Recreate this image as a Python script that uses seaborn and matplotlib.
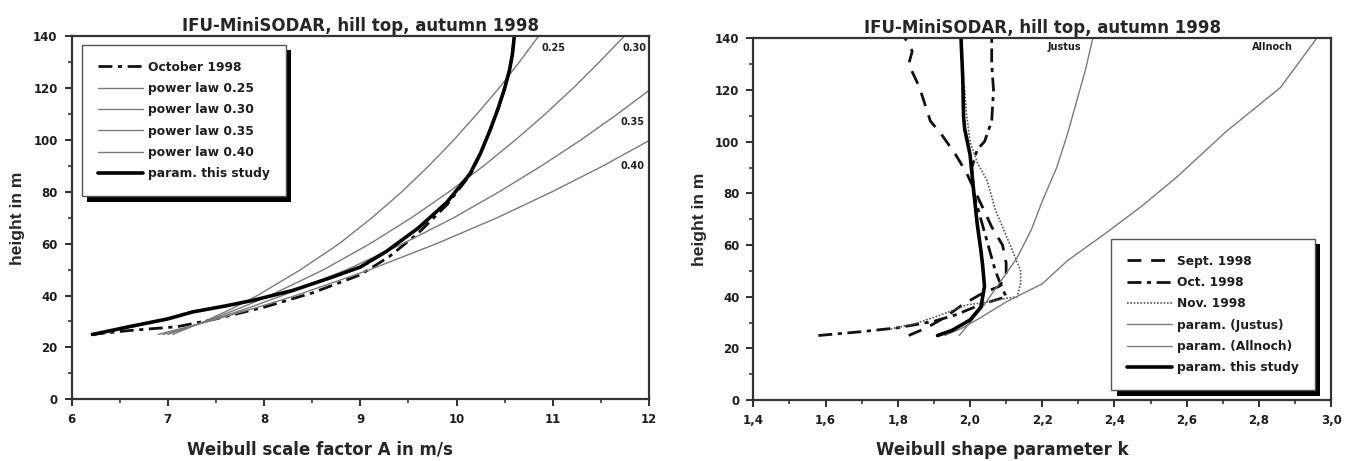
import matplotlib
matplotlib.use("Agg")
import matplotlib.pyplot as plt
import matplotlib.patheffects as pe
from matplotlib.ticker import MultipleLocator, FuncFormatter
import seaborn as sns

# --- left panel: Weibull scale factor A over height ---
pl_heights = [25, 30, 35, 40, 50, 60, 70, 80, 90, 100, 110, 120, 130, 140]
pl_025 = [7.05, 7.38, 7.67, 7.93, 8.38, 8.78, 9.12, 9.43, 9.71, 9.97, 10.21, 10.44, 10.65, 10.85]
pl_030 = [7.00, 7.39, 7.74, 8.06, 8.62, 9.10, 9.53, 9.92, 10.28, 10.61, 10.92, 11.21, 11.48, 11.74]
pl_035 = [6.95, 7.41, 7.82, 8.19, 8.86, 9.44, 9.97, 10.44, 10.88, 11.29, 11.67, 12.03, 12.38, 12.70]
pl_040 = [6.90, 7.42, 7.89, 8.33, 9.10, 9.79, 10.42, 10.99, 11.52, 12.01, 12.48, 12.92, 13.34, 13.74]

oct_A = [6.20, 6.60, 7.10, 7.50, 8.00, 8.50, 9.00, 9.30, 9.60, 9.90, 10.15, 10.25, 10.35, 10.43, 10.50, 10.55, 10.58, 10.60]
oct_A_h = [25, 26.5, 28, 31, 35.5, 41, 48, 55, 64, 75, 87, 95, 104, 112, 120, 127, 133, 140]

param_A = [6.22, 6.60, 7.00, 7.26, 7.60, 7.89, 8.30, 8.70, 9.00, 9.27, 9.60, 9.90, 10.14, 10.25, 10.35, 10.43, 10.50, 10.55, 10.58, 10.60]
param_A_h = [25, 28, 31, 33.7, 36, 38.2, 42, 47, 51, 57, 66, 76, 87, 95, 104, 112, 120, 127, 133, 140]

# --- right panel: Weibull shape parameter k over height ---
sept_k = [1.83, 1.88, 1.93, 1.98, 2.03, 2.08, 2.10, 2.10, 2.09, 2.06, 2.03, 1.99, 1.96, 1.92, 1.89, 1.86, 1.83, 1.84, 1.82]
sept_h = [25, 28, 32, 37, 41, 44, 48, 53, 60, 67, 76, 88, 95, 103, 108, 121, 130, 135, 140]

oct_k = [1.58, 1.70, 1.80, 1.90, 1.96, 2.03, 2.10, 2.09, 2.07, 2.05, 2.03, 2.01, 2.005, 2.02, 2.04, 2.06, 2.065, 2.06, 2.06]
oct_h = [25, 26.5, 28, 30.5, 33, 37, 40, 43, 50, 60, 70, 80, 90, 97, 100, 108, 120, 130, 140]

nov_k = [1.78, 1.85, 1.92, 1.99, 2.05, 2.10, 2.13, 2.14, 2.14, 2.12, 2.09, 2.07, 2.06, 2.047, 2.02, 2.00, 1.99, 1.984]
nov_h = [27.5, 29.7, 33, 36.8, 38, 39.4, 40, 45, 50, 57, 67, 73.6, 78.7, 85, 92, 100, 111, 122]

justus_k = [1.97, 2.00, 2.04, 2.08, 2.13, 2.17, 2.20, 2.24, 2.27, 2.30, 2.32, 2.34]
justus_h = [25, 30, 37, 45, 55, 66, 77, 90, 103, 118, 128, 140]

allnoch_k = [1.93, 1.98, 2.03, 2.10, 2.20, 2.27, 2.37, 2.475, 2.57, 2.71, 2.86, 2.96]
allnoch_h = [25, 28, 32, 38, 45, 54, 64, 75, 86, 104, 121, 140]

param_k = [1.91, 1.95, 2.00, 2.03, 2.04, 2.035, 2.03, 2.02, 2.01, 2.00, 1.985, 1.982, 1.98, 1.975]
param_k_h = [25, 27, 31, 36, 44, 52, 58, 68, 81, 95, 105, 110, 124, 140]

title = "IFU-MiniSODAR, hill top, autumn 1998"

sns.set_style("ticks")
# wide bold face for horizontal text, narrower one for the rotated y label
plt.rcParams["font.family"] = ["DejaVu Sans"]
plt.rcParams["font.weight"] = "bold"
plt.rcParams["axes.labelweight"] = "bold"
plt.rcParams["axes.titleweight"] = "bold"
NARROW = ["Liberation Sans", "DejaVu Sans"]

GRAY = "#7a7a7a"
INK = "#1e1e1e"
fig = plt.figure(figsize=(13.55, 4.61), dpi=100)
ax1 = fig.add_axes([0.0528, 0.134, 0.4262, 0.787])
ax2 = fig.add_axes([0.556, 0.132, 0.4264, 0.785])


def draw(ax, x, y, **kw):
    sns.lineplot(x=x, y=y, ax=ax, sort=False, estimator=None, **kw)


# left panel
draw(ax1, oct_A, oct_A_h, color="#111111", lw=2.0, dashes=(5, 2, 1.5, 2), label="October 1998")
draw(ax1, pl_025, pl_heights, color=GRAY, lw=1.0, label="power law 0.25")
draw(ax1, pl_030, pl_heights, color=GRAY, lw=1.0, label="power law 0.30")
draw(ax1, pl_035, pl_heights, color=GRAY, lw=1.0, label="power law 0.35")
draw(ax1, pl_040, pl_heights, color=GRAY, lw=1.0, label="power law 0.40")
draw(ax1, param_A, param_A_h, color="black", lw=2.6, label="param. this study")

for txt, x, y in [("0.25", 10.88, 135.5), ("0.30", 11.72, 135.5),
                  ("0.35", 11.70, 107), ("0.40", 11.70, 90)]:
    ax1.text(x, y, txt, fontsize=7, fontweight="bold", va="center", ha="left", color=INK)

ax1.set_xlim(6, 12)
ax1.xaxis.set_major_locator(MultipleLocator(1))
ax1.xaxis.set_minor_locator(MultipleLocator(0.5))
ax1.set_xlabel("Weibull scale factor A in m/s", fontsize=12, labelpad=10)

# right panel
draw(ax2, sept_k, sept_h, color="#111111", lw=2.0, dashes=(5, 3.5), label="Sept. 1998")
draw(ax2, oct_k, oct_h, color="#111111", lw=2.0, dashes=(5, 2, 1.5, 2), label="Oct. 1998")
draw(ax2, nov_k, nov_h, color="#555555", lw=1.2, dashes=(1, 1), label="Nov. 1998")
draw(ax2, justus_k, justus_h, color=GRAY, lw=1.0, label="param. (Justus)")
draw(ax2, allnoch_k, allnoch_h, color=GRAY, lw=1.0, label="param. (Allnoch)")
draw(ax2, param_k, param_k_h, color="black", lw=2.6, label="param. this study")

ax2.text(2.215, 136.5, "Justus", fontsize=7, fontweight="bold", va="center", ha="left", color=INK)
ax2.text(2.78, 136.5, "Allnoch", fontsize=7, fontweight="bold", va="center", ha="left", color=INK)

ax2.set_xlim(1.4, 3.0)
ax2.xaxis.set_major_locator(MultipleLocator(0.2))
ax2.xaxis.set_minor_locator(MultipleLocator(0.1))
ax2.xaxis.set_major_formatter(FuncFormatter(lambda v, p: f"{v:.1f}".replace(".", ",")))
ax2.set_xlabel("Weibull shape parameter k", fontsize=12, labelpad=10)

for ax in (ax1, ax2):
    ax.set_ylim(0, 140)
    ax.yaxis.set_major_locator(MultipleLocator(20))
    ax.yaxis.set_minor_locator(MultipleLocator(10))
    ax.set_ylabel("height in m", fontsize=12.5, family=NARROW, labelpad=6)
    ax.set_title(title, fontsize=12, pad=4)
    ax.xaxis.label.set_x(0.43)
    for s in ax.spines.values():
        s.set_visible(True)
        s.set_linewidth(1.6)
        s.set_color("#333333")
    ax.tick_params(which="major", direction="out", length=5, width=1.3, labelsize=8.5,
                   colors=INK, pad=5)
    ax.tick_params(which="minor", direction="out", length=3, width=1.1)
    for lab in ax.get_xticklabels() + ax.get_yticklabels():
        lab.set_fontweight("bold")

leg_kw = dict(fontsize=8.8, frameon=True, fancybox=False, edgecolor="#555555",
              framealpha=1, borderpad=1.3, labelspacing=0.68, handlelength=3.7,
              handletextpad=0.4, borderaxespad=0)
leg1 = ax1.legend(loc="upper left", bbox_to_anchor=(0.018, 0.977), **leg_kw)
leg2 = ax2.legend(loc="upper left", bbox_to_anchor=(0.619, 0.446), **leg_kw)
for leg in (leg1, leg2):
    leg.get_frame().set_linewidth(1.0)
    leg.get_frame().set_path_effects([
        pe.SimplePatchShadow(offset=(4, -4), shadow_rgbFace="black", alpha=1.0),
        pe.Normal()])
    for t in leg.get_texts():
        t.set_fontweight("bold")
        t.set_color(INK)

fig.savefig("out.png", dpi=100)
